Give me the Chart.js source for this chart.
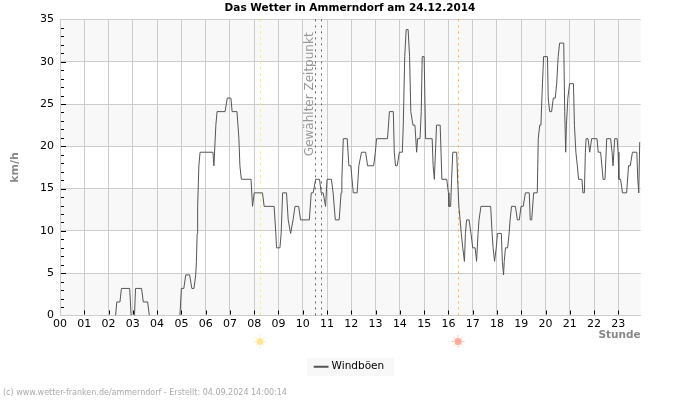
<!DOCTYPE html>
<html>
<head>
<meta charset="utf-8">
<script src="https://cdn.jsdelivr.net/npm/chart.js@4"></script>
<style>
  html, body { margin: 0; padding: 0; background: #fff; }
  #wrap { position: relative; width: 700px; height: 400px; }
</style>
</head>
<body>
<div id="wrap"><canvas id="windChart" width="700" height="400"></canvas></div>
<script>
// hours of the day at which the gust value changes, null = no reading drawn
const gustHours = [
  2.29, 2.34, 2.47, 2.53, 2.87, 2.93, 2.99, 3.07, 3.11, 3.36, 3.43, 3.61, 3.68, 4.3,
  4.94, 5.0, 5.1, 5.18, 5.34, 5.43, 5.52, 5.59, 5.62, 5.65, 5.67, 5.72, 5.77, 6.3, 6.34, 6.42, 6.47,
  6.8, 6.89, 7.04, 7.09, 7.29, 7.33, 7.37, 7.41, 7.47, 7.87, 7.93, 8.0,
  8.34, 8.41, 8.82, 8.89, 8.92, 9.06, 9.11, 9.17, 9.33, 9.4, 9.5, 9.6, 9.68, 9.83, 9.91,
  10.27, 10.35, 10.43, 10.53, 10.69, 10.76, 10.84, 10.94, 11.0, 11.18, 11.25, 11.34, 11.5, 11.58, 11.61, 11.67, 11.83, 11.9, 11.98,
  12.03, 12.08, 12.24, 12.31, 12.42, 12.59, 12.67, 12.92, 12.99, 13.04, 13.49, 13.57, 13.73, 13.77, 13.82, 13.89, 13.98,
  14.1, 14.14, 14.2, 14.26, 14.34, 14.4, 14.45, 14.54, 14.62, 14.69, 14.73, 14.83, 14.88, 14.92, 15.0, 15.06,
  15.33, 15.37, 15.42, 15.51, 15.66, 15.73, 15.93, 16.0, 16.02, 16.09, 16.13, 16.18, 16.34, 16.38, 16.43, 16.48, 16.53, 16.59, 16.66, 16.7, 16.75, 16.85, 16.93,
  17.0, 17.1, 17.16, 17.22, 17.26, 17.34, 17.74, 17.8, 17.84, 17.9, 17.97, 18.02, 18.18, 18.22, 18.27, 18.3, 18.35, 18.44, 18.5, 18.54, 18.6, 18.76, 18.84, 18.92, 18.99,
  19.08, 19.17, 19.33, 19.37, 19.43, 19.51, 19.66, 19.7, 19.76, 19.81, 19.85, 19.92, 20.08, 20.11, 20.17, 20.25, 20.32, 20.4, 20.46, 20.52, 20.58, 20.75, 20.79, 20.83, 20.86, 20.92, 20.99,
  21.15, 21.19, 21.25, 21.31, 21.36, 21.5, 21.54, 21.6, 21.64, 21.67, 21.75, 21.82, 21.9, 22.12, 22.17, 22.27, 22.37, 22.45, 22.52, 22.68, 22.74, 22.78, 22.85, 22.95, 22.99,
  23.02, 23.09, 23.17, 23.34, 23.42, 23.49, 23.58, 23.76, 23.8, 23.84, 23.88
];
const gustValues = [
  0, 1.6, 1.6, 3.2, 3.2, 0, null, 0, 3.2, 3.2, 1.6, 1.6, 0, null,
  0, 3.2, 3.2, 4.8, 4.8, 3.2, 3.2, 4.8, 6.4, 9.7, 12.9, 17.7, 19.3, 19.3, 17.7, 22.5, 24.1,
  24.1, 25.7, 25.7, 24.1, 24.1, 22.5, 20.9, 17.7, 16.1, 16.1, 12.9, 14.5,
  14.5, 12.9, 12.9, 9.7, 8.0, 8.0, 9.7, 14.5, 14.5, 11.3, 9.7, 11.3, 12.9, 12.9, 11.3,
  11.3, 14.5, 14.5, 16.1, 16.1, 14.5, 14.5, 12.9, 16.1, 16.1, 14.5, 11.3, 11.3, 14.5, 16.1, 20.9, 20.9, 17.7, 17.7,
  16.1, 14.5, 14.5, 17.7, 19.3, 19.3, 17.7, 17.7, 19.3, 20.9, 20.9, 24.1, 24.1, 19.3, 17.7, 17.7, 19.3,
  19.3, 22.5, 30.6, 33.8, 33.8, 30.6, 24.1, 22.5, 22.5, 19.3, 20.9, 20.9, 24.1, 30.6, 30.6, 20.9,
  20.9, 17.7, 16.1, 22.5, 22.5, 16.1, 16.1, 14.5, 12.9, 12.9, 16.1, 19.3, 19.3, 16.1, 12.9, 11.3, 9.7, 8.0, 6.4, 9.7, 11.3, 11.3, 9.7,
  8.0, 8.0, 6.4, 9.7, 11.3, 12.9, 12.9, 9.7, 8.0, 6.4, 8.0, 9.7, 9.7, 6.4, 4.8, 6.4, 8.0, 8.0, 9.7, 11.3, 12.9, 12.9, 11.3, 11.3, 12.9,
  12.9, 14.5, 14.5, 11.3, 11.3, 14.5, 14.5, 20.9, 22.5, 22.5, 25.7, 30.6, 30.6, 25.7, 24.1, 24.1, 25.7, 25.7, 27.4, 30.6, 32.2, 32.2, 24.1, 19.3, 22.5, 25.7, 27.4,
  27.4, 22.5, 19.3, 17.7, 16.1, 16.1, 14.5, 14.5, 19.3, 20.9, 20.9, 19.3, 20.9, 20.9, 19.3, 19.3, 16.1, 16.1, 20.9, 20.9, 19.3, 17.7, 20.9, 20.9, 19.3,
  16.1, 16.1, 14.5, 14.5, 17.7, 17.7, 19.3, 19.3, 16.1, 14.5, 20.5
];
const hourLabels = ['00','01','02','03','04','05','06','07','08','09','10','11','12','13','14','15','16','17','18','19','20','21','22','23'];
const sunrise = 8.24;
const sunset = 16.4;
const selectedTime = [10.52, 10.77];
const selectedLabel = 'Gewählter Zeitpunkt';
const chartTitle = 'Das Wetter in Ammerndorf am 24.12.2014';
const footerText = '(c) www.wetter-franken.de/ammerndorf - Erstellt: 04.09.2024 14:00:14';
const font = '"DejaVu Sans"';

function vLine(c, area, x, color, dash) {
    c.save();
    c.strokeStyle = color;
    c.lineWidth = 1;
    c.setLineDash(dash);
    c.beginPath();
    c.moveTo(Math.round(x) + 0.5, area.top);
    c.lineTo(Math.round(x) + 0.5, area.bottom);
    c.stroke();
    c.restore();
}

function sunIcon(c, x, y, color) {
    c.save();
    c.strokeStyle = color;
    c.globalAlpha = 0.7;
    c.lineWidth = 1;
    for (let i = 0; i < 8; i++) {
        const a = i * Math.PI / 4;
        c.beginPath();
        c.moveTo(x + Math.cos(a) * 4, y + Math.sin(a) * 4);
        c.lineTo(x + Math.cos(a) * 6.5, y + Math.sin(a) * 6.5);
        c.stroke();
    }
    c.globalAlpha = 1;
    c.fillStyle = color;
    c.beginPath();
    c.arc(x, y, 3.6, 0, Math.PI * 2);
    c.fill();
    c.restore();
}

const decorations = {
    id: 'decorations',
    beforeDraw(chart) {
        const c = chart.ctx, area = chart.chartArea, y = chart.scales.y;
        // alternating bands behind the grid
        c.save();
        c.fillStyle = '#f8f8f8';
        for (let v = 0; v < 35; v += 10) {
            const top = y.getPixelForValue(v + 5), bottom = y.getPixelForValue(v);
            c.fillRect(area.left, top, area.width, bottom - top);
        }
        // legend background
        c.fillRect(307, 358, 87, 18);
        c.restore();
    },
    beforeDatasetsDraw(chart) {
        const c = chart.ctx, area = chart.chartArea, x = chart.scales.x, y = chart.scales.y;
        vLine(c, area, x.getPixelForValue(sunrise), '#ffe566', [2, 4]);
        vLine(c, area, x.getPixelForValue(sunset), '#ffb030', [2, 4]);
        selectedTime.forEach(t => vLine(c, area, x.getPixelForValue(t), '#666666', [2, 4]));

        // short black ticks inside the plot
        c.save();
        c.strokeStyle = '#000';
        c.lineWidth = 1;
        c.beginPath();
        for (let v = 1; v < 35; v++) {
            const py = Math.round(y.getPixelForValue(v)) + 0.5;
            c.moveTo(area.left + 1, py);
            c.lineTo(area.left + (v % 5 === 0 ? 6 : 4), py);
        }
        for (let h = 1; h < hourLabels.length; h++) {
            const px = Math.round(x.getPixelForValue(h)) + 0.5;
            c.moveTo(px, area.bottom - 1);
            c.lineTo(px, area.bottom - 5);
        }
        c.stroke();

        // label beside the selected time
        c.translate(x.getPixelForValue(selectedTime[0]) - 6, area.top + 13);
        c.rotate(-Math.PI / 2);
        c.font = '12px ' + font;
        c.fillStyle = '#999999';
        c.textAlign = 'right';
        c.textBaseline = 'middle';
        c.fillText(selectedLabel, 0, 0);
        c.restore();
    },
    afterDraw(chart) {
        const c = chart.ctx, x = chart.scales.x;
        sunIcon(c, x.getPixelForValue(sunrise), 341.5, '#ffe699');
        sunIcon(c, x.getPixelForValue(sunset), 341.5, '#ffab99');
        c.save();
        c.font = '8px ' + font;
        c.fillStyle = '#aaaaaa';
        c.textBaseline = 'middle';
        c.fillText(footerText, 3, 393);
        c.restore();
    }
};

new Chart(document.getElementById('windChart'), {
    type: 'line',
    data: {
        labels: gustHours,
        datasets: [{
            label: 'Windböen',
            data: gustValues,
            borderColor: '#555555',
            backgroundColor: '#555555',
            borderWidth: 1,
            pointRadius: 0,
            tension: 0,
            spanGaps: false
        }]
    },
    plugins: [decorations],
    options: {
        responsive: false,
        animation: false,
        layout: { padding: { left: 0, right: 0, top: 0, bottom: 18 } },
        scales: {
            x: {
                type: 'linear',
                min: 0,
                max: 23.92,
                afterBuildTicks: axis => { axis.ticks = hourLabels.map((l, i) => ({ value: i })); },
                afterFit: axis => { axis.height = 43; },
                grid: { color: '#cccccc', drawTicks: false },
                border: { color: '#cccccc' },
                ticks: {
                    autoSkip: false,
                    maxRotation: 0,
                    padding: 2,
                    color: '#000',
                    font: { family: font, size: 11 },
                    callback: value => hourLabels[value]
                },
                title: {
                    display: true,
                    text: 'Stunde',
                    align: 'end',
                    color: '#888888',
                    font: { family: font, size: 10.5, weight: 'bold' },
                    padding: { top: 0, bottom: 17.4 }
                }
            },
            y: {
                min: 0,
                max: 35,
                afterFit: axis => { axis.width = 60; },
                grid: { color: '#cccccc', drawTicks: false },
                border: { color: '#cccccc' },
                ticks: {
                    stepSize: 5,
                    padding: 6,
                    color: '#000',
                    font: { family: font, size: 11 }
                },
                title: {
                    display: true,
                    text: 'km/h',
                    color: '#888888',
                    font: { family: font, size: 11, weight: 'bold' },
                    padding: { top: 9, bottom: 0 }
                }
            },
            // empty axis that keeps the right margin, so title and legend stay centred on the page
            rightMargin: {
                position: 'right',
                min: 0,
                max: 1,
                afterFit: axis => { axis.width = 59.3; },
                grid: { display: false },
                border: { display: false },
                ticks: { display: false }
            }
        },
        plugins: {
            title: {
                display: true,
                text: chartTitle,
                color: '#000',
                font: { family: font, size: 10.5, weight: 'bold' },
                padding: { top: 2.4, bottom: 4.4 }
            },
            legend: {
                position: 'bottom',
                labels: {
                    usePointStyle: true,
                    pointStyle: 'line',
                    boxWidth: 11,
                    padding: 3,
                    color: '#000',
                    font: { family: font, size: 10.5 },
                    generateLabels: chart => Chart.defaults.plugins.legend.labels.generateLabels(chart)
                        .map(item => Object.assign(item, { lineWidth: 2 }))
                }
            },
            tooltip: { enabled: false }
        }
    }
});
</script>
</body>
</html>
